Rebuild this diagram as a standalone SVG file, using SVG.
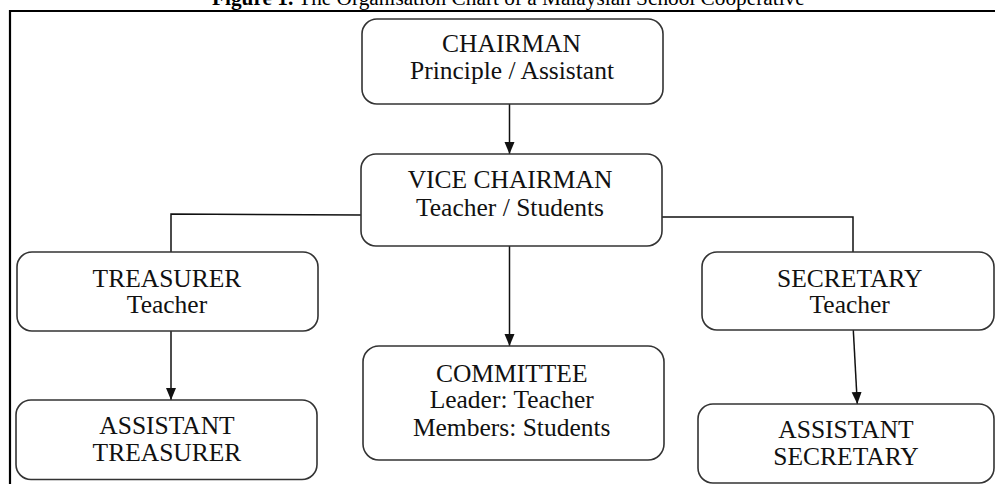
<svg xmlns="http://www.w3.org/2000/svg" width="995" height="484" viewBox="0 0 995 484">
  <style>
    .box { fill: #ffffff; stroke: #333333; stroke-width: 1.6; }
    .lbl { font-family: "Liberation Serif", "Times New Roman", serif; font-size: 25.5px; fill: #111111; text-anchor: middle; }
    .title { font-family: "Liberation Serif", "Times New Roman", serif; font-size: 21.3px; fill: #000000; }
    .link { fill: none; stroke: #111111; stroke-width: 1.5; }
    .frame { fill: none; stroke: #000000; stroke-width: 2.2; }
  </style>
  <defs>
    <marker id="arrow" viewBox="0 0 12 12" refX="12" refY="6" markerWidth="12" markerHeight="12" markerUnits="userSpaceOnUse" orient="auto">
      <path d="M0,1 L12,6 L0,11 z" fill="#111111"/>
    </marker>
  </defs>

  <rect width="995" height="484" fill="#ffffff"/>

  <!-- caption -->
  <text class="title" x="212" y="5"><tspan font-weight="bold">Figure 1.</tspan> The Organisation Chart of a Malaysian School Cooperative</text>

  <!-- frame -->
  <path class="frame" d="M10,484 L10,11 L995,11"/>

  <!-- connectors -->
  <g id="connectors">
    <line class="link" x1="509.5" y1="104" x2="509.5" y2="154" marker-end="url(#arrow)"/>
    <polyline class="link" points="361,215 171,214 171,252"/>
    <polyline class="link" points="662,217 853,217 853,252"/>
    <line class="link" x1="171" y1="331" x2="171" y2="400" marker-end="url(#arrow)"/>
    <line class="link" x1="509.5" y1="246" x2="509.5" y2="346" marker-end="url(#arrow)"/>
    <line class="link" x1="853.3" y1="330" x2="857.3" y2="404" marker-end="url(#arrow)"/>
  </g>

  <g id="chairman">
    <rect class="box" x="362" y="19" width="301" height="85" rx="15"/>
    <text class="lbl" x="511.5" y="51.7">CHAIRMAN</text>
    <text class="lbl" x="512" y="79.3">Principle / Assistant</text>
  </g>

  <g id="vice-chairman">
    <rect class="box" x="361" y="154" width="301" height="92" rx="15"/>
    <text class="lbl" x="510" y="188.3">VICE CHAIRMAN</text>
    <text class="lbl" x="510" y="216">Teacher / Students</text>
  </g>

  <g id="treasurer">
    <rect class="box" x="17" y="252" width="301" height="79" rx="15"/>
    <text class="lbl" x="167" y="287.3">TREASURER</text>
    <text class="lbl" x="167" y="312.7">Teacher</text>
  </g>

  <g id="assistant-treasurer">
    <rect class="box" x="16" y="400" width="301" height="79.5" rx="15"/>
    <text class="lbl" x="167" y="434">ASSISTANT</text>
    <text class="lbl" x="167" y="460.7">TREASURER</text>
  </g>

  <g id="committee">
    <rect class="box" x="363" y="346" width="301" height="114" rx="16"/>
    <text class="lbl" x="511.7" y="381.7">COMMITTEE</text>
    <text class="lbl" x="511.7" y="408.3">Leader: Teacher</text>
    <text class="lbl" x="511.7" y="435.7">Members: Students</text>
  </g>

  <g id="secretary">
    <rect class="box" x="702" y="252" width="292" height="78" rx="15"/>
    <text class="lbl" x="849.7" y="286.7">SECRETARY</text>
    <text class="lbl" x="849.7" y="312.7">Teacher</text>
  </g>

  <g id="assistant-secretary">
    <rect class="box" x="698" y="404" width="296" height="79" rx="15"/>
    <text class="lbl" x="846" y="438.3">ASSISTANT</text>
    <text class="lbl" x="846" y="465">SECRETARY</text>
  </g>
</svg>
